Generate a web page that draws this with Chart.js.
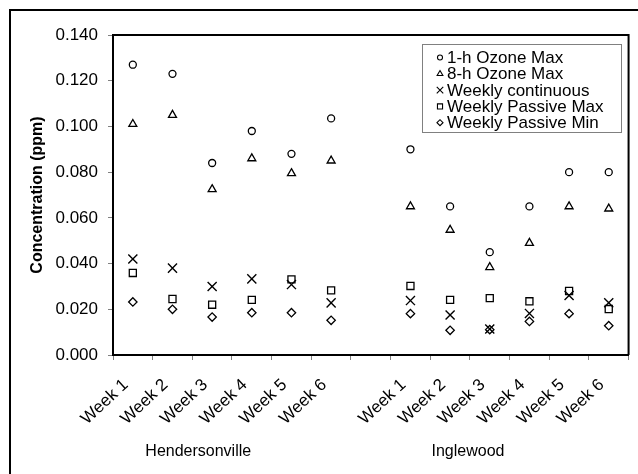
<!DOCTYPE html>
<html><head><meta charset="utf-8">
<script src="https://cdn.jsdelivr.net/npm/chart.js@4.4.1/dist/chart.umd.min.js"></script>
<style>html,body{margin:0;padding:0;background:#fff}canvas{display:block}</style>
</head>
<body>
<canvas id="c" width="638" height="474"></canvas>
<script>
const categories = ['Week 1','Week 2','Week 3','Week 4','Week 5','Week 6','',
                    'Week 1','Week 2','Week 3','Week 4','Week 5','Week 6'];
const groups = ['Hendersonville','Inglewood'];
const yTickValues = [0,0.02,0.04,0.06,0.08,0.10,0.12,0.14];

const ozone1hMax       = [0.127,0.123,0.084,0.098,0.088,0.1035,null,0.090,0.065,0.045,0.065,0.080,0.080];
const ozone8hMax       = [0.101,0.105,0.0725,0.086,0.0795,0.085,null,0.065,0.0547,0.0384,0.049,0.065,0.064];
const weeklyContinuous = [0.042,0.038,0.030,0.0333,0.0308,0.0228,null,0.0238,0.0175,0.0114,0.0182,0.026,0.0229];
const weeklyPassiveMax = [0.0359,0.0245,0.022,0.0241,0.0331,0.0283,null,0.0302,0.0241,0.0249,0.0235,0.028,0.0201];
const weeklyPassiveMin = [0.0232,0.020,0.0166,0.0185,0.0185,0.0152,null,0.0181,0.0108,0.0111,0.0147,0.0181,0.0128];

const FONT = "'Liberation Sans', Arial, sans-serif";

function ds(label, data, style, r, bw) {
  return { label, data, showLine: false, pointStyle: style, pointRadius: r, pointHoverRadius: r,
    pointBorderColor: '#000', pointBackgroundColor: '#fff', pointBorderWidth: bw,
    borderColor: '#000', backgroundColor: '#fff' };
}

const framePlugin = {
  id: 'frame',
  beforeDraw(chart) {
    const ctx = chart.ctx;
    ctx.save();
    ctx.fillStyle = '#fff';
    ctx.fillRect(0, 0, chart.width, chart.height);
    ctx.strokeStyle = '#000';
    ctx.lineWidth = 2;
    ctx.beginPath();
    ctx.moveTo(10, chart.height);
    ctx.lineTo(10, 10);
    ctx.lineTo(chart.width, 10);
    ctx.stroke();
    ctx.restore();
  },
  afterDraw(chart) {
    const ctx = chart.ctx;
    const a = chart.chartArea;
    ctx.save();
    ctx.strokeStyle = '#000';
    ctx.lineWidth = 2;
    ctx.beginPath();
    ctx.moveTo(a.left, a.top);
    ctx.lineTo(a.right, a.top);
    ctx.lineTo(a.right, a.bottom);
    ctx.stroke();

    // legend
    const lx = 422, ly = 44.5, lw = 199, lh = 88;
    ctx.fillStyle = '#fff';
    ctx.fillRect(lx, ly, lw, lh);
    ctx.strokeStyle = '#808080';
    ctx.lineWidth = 1;
    ctx.strokeRect(lx + 0.5, ly, lw, lh);
    ctx.font = '17px ' + FONT;
    ctx.textBaseline = 'middle';
    ctx.textAlign = 'left';
    chart.data.datasets.forEach((d, i) => {
      const y = 57.5 + i * 16.3;
      ctx.strokeStyle = '#000';
      ctx.fillStyle = '#fff';
      ctx.lineWidth = 1.1;
      Chart.helpers.drawPoint(ctx, { pointStyle: d.pointStyle, radius: d.pointRadius * 0.72, rotation: 0, borderWidth: 1.1 }, 440, y);
      ctx.fillStyle = '#000';
      ctx.fillText(d.label, 447, y + 1);
    });

    // group labels
    const xs = chart.scales.x;
    ctx.font = '16px ' + FONT;
    ctx.fillStyle = '#000';
    ctx.textAlign = 'center';
    ctx.textBaseline = 'middle';
    const groupPos = [1.65, 8.45];
    groups.forEach((g, i) => {
      ctx.fillText(g, xs.getPixelForValue(groupPos[i]), 452);
    });
    ctx.restore();
  }
};

new Chart(document.getElementById('c'), {
  type: 'line',
  data: {
    labels: categories,
    datasets: [
      ds('1-h Ozone Max', ozone1hMax, 'circle', 3.5, 1.3),
      ds('8-h Ozone Max', ozone8hMax, 'triangle', 4.6, 1.3),
      ds('Weekly continuous', weeklyContinuous, 'crossRot', 6.4, 1.4),
      ds('Weekly Passive Max', weeklyPassiveMax, 'rect', 5, 1.3),
      ds('Weekly Passive Min', weeklyPassiveMin, 'rectRot', 4.2, 1.3)
    ]
  },
  options: {
    responsive: false,
    animation: false,
    events: [],
    layout: { padding: { top: 35, right: 9, left: 0, bottom: 0 } },
    plugins: { legend: { display: false }, tooltip: { enabled: false } },
    scales: {
      x: {
        type: 'category',
        offset: true,
        afterFit(s) { s.height = 119; },
        grid: { offset: true, drawOnChartArea: false, drawTicks: true, tickLength: 5, color: '#808080' },
        border: { display: true, color: '#000', width: 2 },
        ticks: { autoSkip: false, maxRotation: 43, minRotation: 43, padding: 15, labelOffset: -7,
                 color: '#000', font: { family: FONT, size: 17 } }
      },
      y: {
        min: 0, max: 0.14,
        afterFit(s) { s.width = 113; },
        afterBuildTicks(s) { s.ticks = yTickValues.map(v => ({ value: v })); },
        grid: { drawOnChartArea: false, drawTicks: true, tickLength: 5, color: '#808080' },
        border: { display: true, color: '#000', width: 2 },
        ticks: { padding: 10, color: '#000', font: { family: FONT, size: 17 },
                 callback: v => Number(v).toFixed(3) },
        title: { display: true, text: 'Concentration (ppm)', color: '#000',
                 font: { family: FONT, size: 16, weight: 'bold' }, padding: { top: 28, bottom: 0 } }
      }
    }
  },
  plugins: [framePlugin]
});
</script>
</body></html>
